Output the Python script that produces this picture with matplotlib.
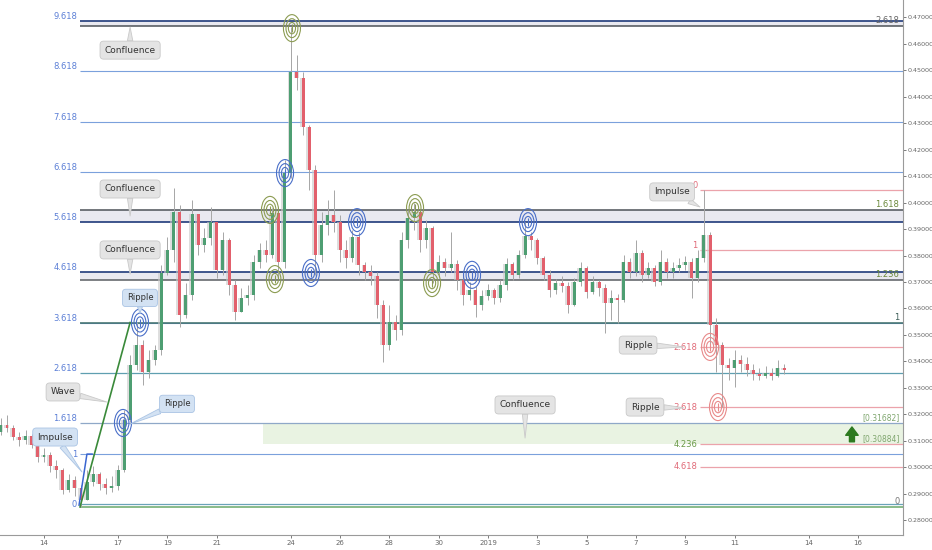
import numpy as np
import matplotlib
matplotlib.use("Agg")
import matplotlib.pyplot as plt
from matplotlib.patches import Ellipse

# ---- candles: 6h bars, x in days from 14 Dec 2018 00:00 ----
first_day = -1.75
bar_step = 0.25
first_open = 0.3134
closes = [
    0.3160, 0.3149, 0.3115, 0.3104, 0.3119, 0.3085, 0.3040, 0.3047, 0.3006, 0.2991,
    0.2915, 0.2953, 0.2923, 0.2878, 0.2945, 0.2976, 0.2938, 0.2923, 0.2930, 0.2991,
    0.3179, 0.3387, 0.3462, 0.3360, 0.3406, 0.3443, 0.3734, 0.3821, 0.3964, 0.3576,
    0.3651, 0.3957, 0.3840, 0.3866, 0.3926, 0.3745, 0.3858, 0.3689, 0.3587, 0.3640,
    0.3651, 0.3776, 0.3821, 0.3802, 0.3960, 0.3776, 0.4111, 0.4493, 0.4470, 0.4285,
    0.4123, 0.3802, 0.3915, 0.3953, 0.3926, 0.3821, 0.3791, 0.3870, 0.3764, 0.3738,
    0.3723, 0.3613, 0.3462, 0.3549, 0.3519, 0.3858, 0.3942, 0.3964, 0.3858, 0.3904,
    0.3738, 0.3776, 0.3753, 0.3768, 0.3708, 0.3651, 0.3670, 0.3613, 0.3647, 0.3670,
    0.3640, 0.3689, 0.3768, 0.3727, 0.3802, 0.3874, 0.3858, 0.3791, 0.3727, 0.3670,
    0.3696, 0.3685, 0.3613, 0.3700, 0.3753, 0.3662, 0.3700, 0.3678, 0.3621, 0.3640,
    0.3632, 0.3776, 0.3738, 0.3810, 0.3727, 0.3753, 0.3700, 0.3776, 0.3738, 0.3753,
    0.3764, 0.3776, 0.3715, 0.3791, 0.3877, 0.3538, 0.3462, 0.3387, 0.3376, 0.3406,
    0.3391, 0.3368, 0.3353, 0.3345, 0.3357, 0.3345, 0.3376, 0.3368,
]
highs = [
    0.3187, 0.3198, 0.3160, 0.3134, 0.3142, 0.3126, 0.3093, 0.3074, 0.3059, 0.3028,
    0.2998, 0.2976, 0.2968, 0.2934, 0.2991, 0.3006, 0.2983, 0.2961, 0.2968, 0.3010,
    0.3217, 0.3424, 0.3549, 0.3481, 0.3443, 0.3462, 0.3764, 0.3870, 0.4055, 0.3991,
    0.3696, 0.4010, 0.3953, 0.3904, 0.3983, 0.3915, 0.3889, 0.3866, 0.3708, 0.3678,
    0.3689, 0.3802, 0.3847, 0.3858, 0.3979, 0.3964, 0.4160, 0.4662, 0.4557, 0.4493,
    0.4293, 0.4142, 0.3964, 0.4010, 0.4047, 0.3953, 0.3858, 0.3896, 0.3889, 0.3776,
    0.3764, 0.3738, 0.3632, 0.3613, 0.3576, 0.3889, 0.3972, 0.3998, 0.3972, 0.3934,
    0.3911, 0.3802, 0.3791, 0.3889, 0.3783, 0.3723, 0.3700, 0.3685, 0.3670, 0.3693,
    0.3678, 0.3708, 0.3791, 0.3776, 0.3821, 0.3926, 0.3889, 0.3866, 0.3798, 0.3745,
    0.3711, 0.3723, 0.3700, 0.3715, 0.3776, 0.3761, 0.3723, 0.3708, 0.3693, 0.3670,
    0.3655, 0.3802, 0.3791, 0.3858, 0.3821, 0.3776, 0.3764, 0.3821, 0.3791, 0.3776,
    0.3791, 0.3798, 0.3791, 0.3821, 0.4047, 0.3889, 0.3564, 0.3474, 0.3413, 0.3443,
    0.3424, 0.3417, 0.3391, 0.3376, 0.3383, 0.3376, 0.3406, 0.3391,
]
lows = [
    0.3123, 0.3134, 0.3104, 0.3081, 0.3089, 0.3074, 0.3021, 0.3021, 0.2983, 0.2961,
    0.2900, 0.2908, 0.2893, 0.2851, 0.2878, 0.2930, 0.2915, 0.2900, 0.2908, 0.2915,
    0.2983, 0.3172, 0.3368, 0.3311, 0.3338, 0.3387, 0.3424, 0.3727, 0.3776, 0.3530,
    0.3564, 0.3632, 0.3802, 0.3813, 0.3840, 0.3715, 0.3727, 0.3651, 0.3557, 0.3587,
    0.3613, 0.3632, 0.3753, 0.3776, 0.3791, 0.3715, 0.3753, 0.4093, 0.4425, 0.4255,
    0.4047, 0.3727, 0.3776, 0.3877, 0.3889, 0.3776, 0.3753, 0.3776, 0.3727, 0.3708,
    0.3689, 0.3564, 0.3398, 0.3443, 0.3481, 0.3500, 0.3828, 0.3896, 0.3813, 0.3828,
    0.3696, 0.3727, 0.3723, 0.3738, 0.3670, 0.3613, 0.3632, 0.3568, 0.3594, 0.3632,
    0.3617, 0.3625, 0.3670, 0.3708, 0.3715, 0.3791, 0.3821, 0.3768, 0.3708, 0.3643,
    0.3655, 0.3662, 0.3583, 0.3610, 0.3685, 0.3640, 0.3655, 0.3647, 0.3508, 0.3557,
    0.3545, 0.3625, 0.3715, 0.3723, 0.3700, 0.3715, 0.3685, 0.3689, 0.3715, 0.3715,
    0.3738, 0.3745, 0.3640, 0.3700, 0.3776, 0.3462, 0.3360, 0.3228, 0.3330, 0.3304,
    0.3360, 0.3345, 0.3330, 0.3330, 0.3338, 0.3330, 0.3342, 0.3353,
]

# ---- x axis ticks (days from 14 Dec) ----
tick_days = [0, 3, 5, 7, 10, 12, 14, 16, 18, 20, 22, 24, 26, 28, 31, 33]
tick_labels = ["14", "17", "19", "21", "24", "26", "28", "30", "2019",
               "3", "5", "7", "9", "11", "14", "16"]
price_ticks = [0.28, 0.29, 0.30, 0.31, 0.32, 0.33, 0.34, 0.35, 0.36, 0.37,
               0.38, 0.39, 0.40, 0.41, 0.42, 0.43, 0.44, 0.45, 0.46, 0.47]

# ---- fib tools ----
blue_fib_levels = [0, 1, 1.618, 2.618, 3.618, 4.618, 5.618, 6.618, 7.618, 8.618, 9.618]
blue_fib_zero, blue_fib_one = 0.2861, 0.30506
wave_fib_levels = [0, 1, 1.236, 1.618, 2.618]
wave_fib_zero, wave_fib_one = 0.2851, 0.3544
red_fib_levels = [0, 1, 2.618, 3.618, 4.236, 4.618]
red_fib_zero, red_fib_one = 0.4047, 0.38207
fib_start = 1.46
red_fib_start = 26.6

zone_top, zone_bottom = 0.31682, 0.30884
zone_start = 8.88

# target rings: (day, price, colour)
ripples = [
    (3.20, 0.3168, "blue"), (3.89, 0.3547, "blue"), (9.16, 0.3972, "green"),
    (9.36, 0.3711, "green"), (9.77, 0.4111, "blue"), (10.05, 0.4658, "green"),
    (10.82, 0.3734, "blue"), (12.69, 0.3926, "blue"), (15.04, 0.3979, "green"),
    (15.73, 0.3696, "green"), (17.35, 0.3727, "blue"), (19.62, 0.3926, "blue"),
    (27.00, 0.3455, "red"), (27.32, 0.3228, "red"),
]

# callouts: (text, box centre, pointer tip, box style)
callouts = [
    ("Confluence", (3.49, 0.4575), (3.49, 0.4662), "grey"),
    ("Confluence", (3.49, 0.4051), (3.49, 0.3949), "grey"),
    ("Confluence", (3.49, 0.3821), (3.49, 0.3730), "grey"),
    ("Confluence", (19.50, 0.3236), (19.50, 0.3111), "grey"),
    ("Impulse", (0.45, 0.3115), (1.54, 0.2983), "blue"),
    ("Wave", (0.77, 0.3285), (2.55, 0.3247), "grey"),
    ("Ripple", (3.89, 0.3640), (3.89, 0.3583), "blue"),
    ("Ripple", (5.39, 0.3240), (3.49, 0.3164), "blue"),
    ("Impulse", (25.46, 0.4040), (26.59, 0.3983), "grey"),
    ("Ripple", (24.08, 0.3462), (25.94, 0.3455), "grey"),
    ("Ripple", (24.36, 0.3228), (25.94, 0.3225), "grey"),
]

ring_colors = {"blue": "#4a6fc8", "green": "#8c9c52", "red": "#e88a8a"}
box_colors = {"grey": ("#e4e4e4", "#c9c9c9"), "blue": ("#d3e2f3", "#aac4e4")}

fig = plt.figure(figsize=(9.32, 5.5), dpi=100)
ax = fig.add_axes([0.0, 0.0273, 0.9689, 0.9727])
x_lo, x_hi = -1.784, 34.82
ax.set_xlim(x_lo, x_hi)
ax.set_ylim(0.27453, 0.47642)


def blue_price(lv):
    return blue_fib_zero + lv * (blue_fib_one - blue_fib_zero)


def wave_price(lv):
    return wave_fib_zero + lv * (wave_fib_one - wave_fib_zero)


def red_price(lv):
    return red_fib_zero + lv * (red_fib_one - red_fib_zero)


# confluence bands between blue fib and wave fib levels
band_pairs = [(blue_price(9.618), wave_price(2.618)),
              (blue_price(5.618), wave_price(1.618)),
              (blue_price(4.618), wave_price(1.236))]
for a, b in band_pairs:
    ax.fill_between([fib_start, x_hi], min(a, b), max(a, b), color="#e9e9f0", zorder=1, lw=0)

# green target zone
ax.fill_between([zone_start, x_hi], zone_bottom, zone_top, color="#e9f3e2", zorder=1, lw=0)

# blue fib lines
navy = {4.618, 5.618, 9.618}
for lv in blue_fib_levels:
    p = blue_price(lv)
    if lv in navy:
        col, lw = "#1f3a7a", 1.2
    elif lv == 0:
        col, lw = "#6aa3b8", 0.9
    elif lv == 1.618:
        col, lw = "#8fa8c8", 0.9
    elif lv == 2.618:
        col, lw = "#5f9fb0", 0.9
    else:
        col, lw = "#7ba1dc", 0.8
    ax.hlines(p, fib_start, x_hi, color=col, lw=lw, zorder=2)
    lab = f"{lv:g}" if lv in (0, 1) else f"{lv:.3f}"
    ax.text(fib_start - 0.12, p, lab, ha="right", va="bottom" if lv > 1 else "center",
            fontsize=6, color="#5b7fd6", zorder=5)

# wave fib lines
wave_colors = {0: "#6aa86a", 1: "#3d6e68", 1.236: "#5a5e62", 1.618: "#4d5258", 2.618: "#4d5258"}
wave_text = {0: "#777777", 1: "#3d5e58", 1.236: "#6c8a3c", 1.618: "#6c8a3c", 2.618: "#666666"}
for lv in wave_fib_levels:
    p = wave_price(lv)
    ax.hlines(p, fib_start, x_hi, color=wave_colors[lv], lw=1.1, zorder=2)
    ax.text(x_hi - 0.15, p + 0.0004, f"{lv:g}" if lv in (0, 1) else f"{lv:.3f}",
            ha="right", va="bottom", fontsize=6, color=wave_text[lv], zorder=5)

# red fib lines
for lv in red_fib_levels:
    p = red_price(lv)
    ax.hlines(p, red_fib_start, x_hi, color="#eba3ab", lw=0.9, zorder=2)
    ax.text(red_fib_start - 0.1, p, f"{lv:g}" if lv in (0, 1) else f"{lv:.3f}",
            ha="right", va="bottom" if lv < 2 else "center", fontsize=6,
            color="#6a9a48" if lv == 4.236 else "#e06a78", zorder=5)

ax.text(x_hi - 0.15, zone_top + 0.0002, f"[{zone_top:.5f}]", ha="right", va="bottom",
        fontsize=5.5, color="#7fa66e", zorder=5)
ax.text(x_hi - 0.15, zone_bottom + 0.0002, f"[{zone_bottom:.5f}]", ha="right", va="bottom",
        fontsize=5.5, color="#7fa66e", zorder=5)

# green arrow in the zone
ax.annotate("", xy=(32.75, 0.3153), xytext=(32.75, 0.3097),
            arrowprops=dict(arrowstyle="simple,head_width=0.75,head_length=0.5,tail_width=0.3",
                            fc="#2d7a1f", ec="#2d7a1f", mutation_scale=12,
                            shrinkA=0, shrinkB=0), zorder=6)

# impulse leg and wave line
ax.plot([1.42, 1.74, 1.95], [0.2858, 0.30506, 0.30506], color="#3a66d0", lw=1.1, zorder=4)
ax.plot([1.46, 3.49], [0.2851, 0.3547], color="#3a8a3a", lw=1.2, zorder=4)

# candles
opens = [first_open] + closes[:-1]
days = [first_day + i * bar_step for i in range(len(closes))]
for d, o, c, h, l in zip(days, opens, closes, highs, lows):
    col = "#4e9e72" if c >= o else "#e2606c"
    top = max(h, o, c)
    bot = min(l, o, c)
    ax.vlines(d, bot, top, color="#a6a6a6", lw=0.7, zorder=3)
    ax.bar(d - 0.03, max(abs(c - o), 0.0004), bottom=min(o, c), width=0.2,
           color="#c8c8c8", alpha=0.6, zorder=3, lw=0)
    ax.bar(d, max(abs(c - o), 0.0004), bottom=min(o, c), width=0.12,
           color=col, zorder=3, lw=0)

# target rings
for d, p, cname in ripples:
    col = ring_colors[cname]
    for s in (1.0, 0.7, 0.42):
        ax.add_patch(Ellipse((d, p), 0.69 * s, 0.0102 * s, fill=False, ec=col,
                             lw=0.8, zorder=6))
    ax.vlines(d, p - 0.0015, p + 0.0015, color=col, lw=0.8, zorder=6)

# callouts
for text, box, tip, style in callouts:
    fc, ec = box_colors[style]
    ax.annotate(text, xy=tip, xytext=box, ha="center", va="center",
                fontsize=6.5 if text != "Ripple" or style == "grey" else 6,
                color="#333333", zorder=8,
                bbox=dict(boxstyle="round,pad=0.5,rounding_size=0.4", fc=fc, ec=ec, lw=0.6),
                arrowprops=dict(arrowstyle="wedge,tail_width=0.6,shrink_factor=0.5",
                                fc=fc, ec=ec, lw=0.6, shrinkA=0, shrinkB=0))

# axes styling
ax.set_xticks(tick_days)
ax.set_xticklabels(tick_labels)
ax.set_yticks(price_ticks)
ax.yaxis.tick_right()
ax.yaxis.set_major_formatter(plt.FuncFormatter(lambda v, _: f"{v:.5f}"))
ax.tick_params(axis="x", labelsize=5, colors="#666666", length=2, width=0.6, pad=1.5)
ax.tick_params(axis="y", labelsize=4.6, colors="#666666", length=2, width=0.6, pad=1)
for side in ("top", "left"):
    ax.spines[side].set_visible(False)
for side in ("right", "bottom"):
    ax.spines[side].set_color("#9a9a9a")
    ax.spines[side].set_linewidth(0.8)

fig.savefig("out.png", dpi=100)
